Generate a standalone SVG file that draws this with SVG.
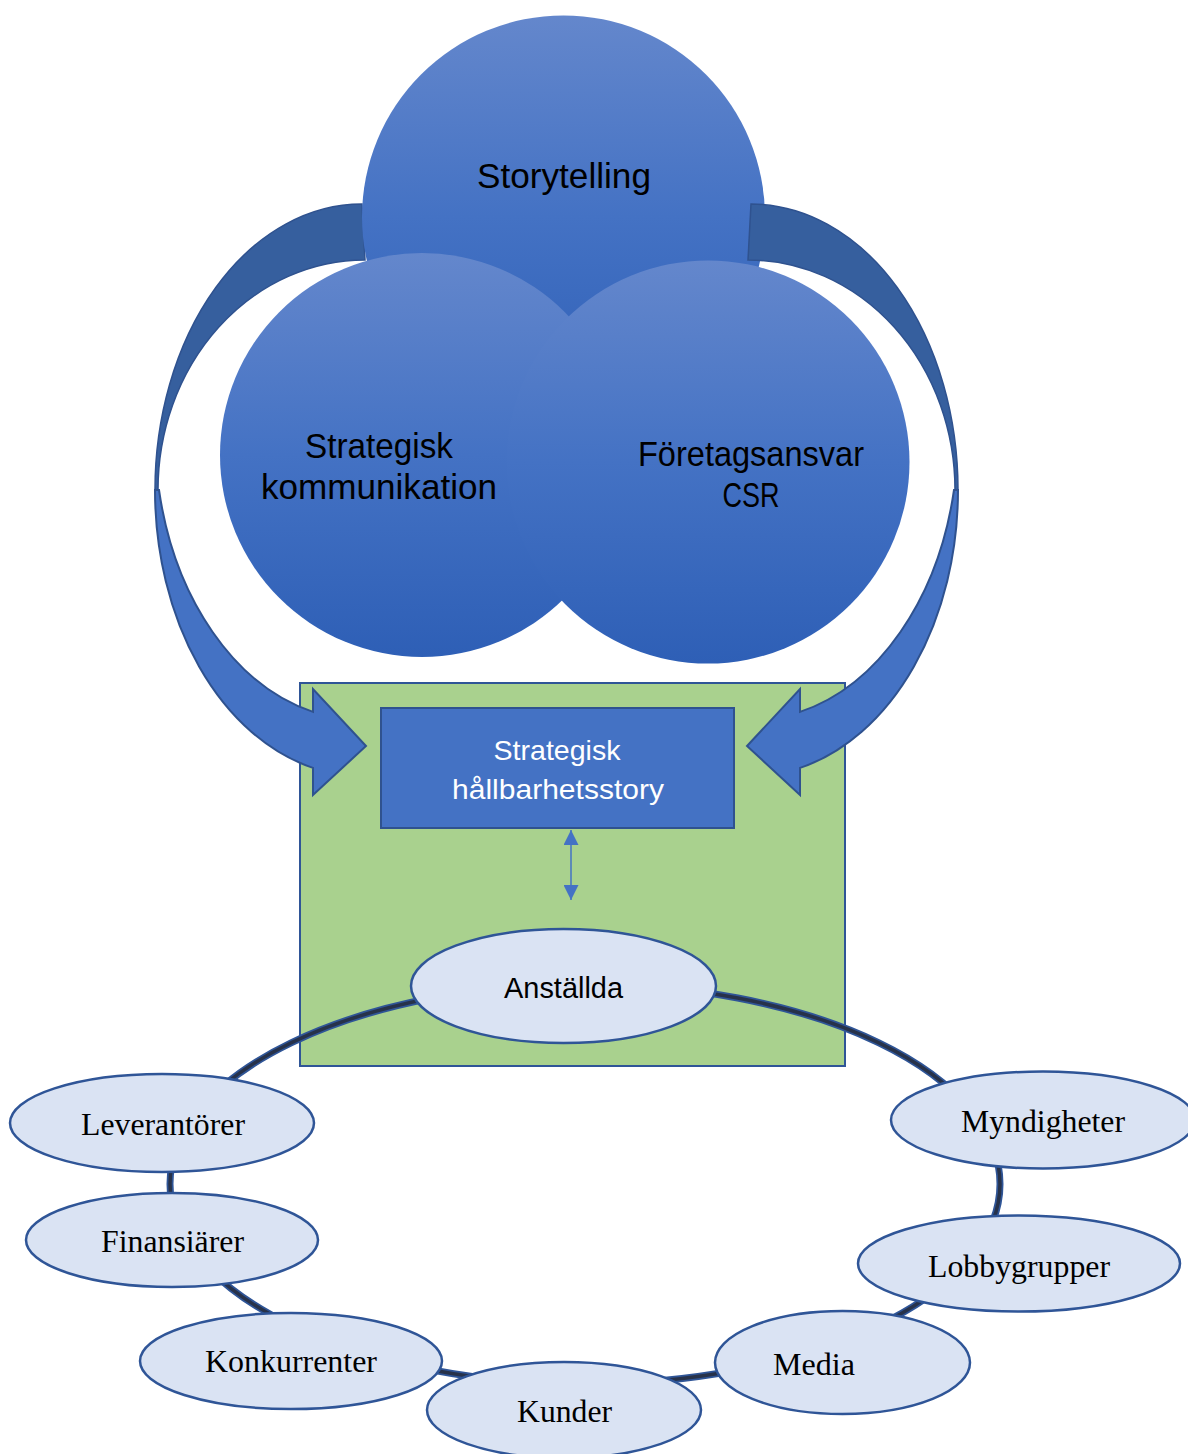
<svg xmlns="http://www.w3.org/2000/svg" width="1188" height="1454" viewBox="0 0 1188 1454">
<defs>
<linearGradient id="cg" x1="0" y1="0" x2="0" y2="1">
<stop offset="0" stop-color="#6487cc"/>
<stop offset="0.5" stop-color="#4472c4"/>
<stop offset="1" stop-color="#2e5fb6"/>
</linearGradient>
<marker id="ah" viewBox="0 0 10 10" refX="10" refY="5" markerWidth="15" markerHeight="15" markerUnits="userSpaceOnUse" orient="auto-start-reverse">
<path d="M0,0 L10,5 L0,10 Z" fill="#4472c4"/>
</marker>
<g id="curvedArrow">
<path d="M362,204 A207,286 0 0 0 155,490 L158,490 A207,230 0 0 1 365,260 Z" fill="#365f9e" stroke="#2f528f" stroke-width="1.5"/>
<path d="M155,490 A207,286 0 0 0 313,767.9 L313,795 L366,746 L313,689 L313,711.9 A207,286 0 0 1 159,490 Z" fill="#4472c4" stroke="#2f528f" stroke-width="2"/>
</g>
</defs>
<style>
.ct{font-family:"Liberation Sans",Arial,sans-serif;font-size:35px;fill:#000;text-anchor:middle}
.wt{font-family:"Liberation Sans",Arial,sans-serif;font-size:28px;fill:#fff;text-anchor:middle}
.st{font-family:"Liberation Serif","Times New Roman",serif;font-size:32px;fill:#000;text-anchor:middle}
.sh{fill:#dae3f3;stroke:#2f5597;stroke-width:2.5}
</style>

<g id="frame">
<rect x="300" y="683" width="545" height="383" fill="#a9d18e" stroke="#2f5597" stroke-width="2"/>
</g>

<g id="arrow-left">
<use href="#curvedArrow"/>
</g>

<g id="storytelling">
<circle cx="563.5" cy="217" r="201.5" fill="url(#cg)"/>
<text class="ct" x="564" y="188" textLength="174" lengthAdjust="spacingAndGlyphs">Storytelling</text>
</g>

<g id="arrow-right">
<use href="#curvedArrow" transform="translate(1113,0) scale(-1,1)"/>
</g>

<g id="strategisk-kommunikation">
<circle cx="422" cy="455" r="202" fill="url(#cg)"/>
</g>
<g id="foretagsansvar">
<circle cx="708" cy="462" r="201.5" fill="url(#cg)"/>
</g>
<g id="circle-labels">
<text class="ct" x="379" y="458" textLength="148" lengthAdjust="spacingAndGlyphs">Strategisk</text>
<text class="ct" x="379" y="499" textLength="236" lengthAdjust="spacingAndGlyphs">kommunikation</text>
<text class="ct" x="751" y="466" textLength="226" lengthAdjust="spacingAndGlyphs">Företagsansvar</text>
<text class="ct" x="751" y="507" textLength="57" lengthAdjust="spacingAndGlyphs">CSR</text>
</g>

<g id="hallbarhetsstory">
<rect x="381" y="708" width="353" height="120" fill="#4472c4" stroke="#2f528f" stroke-width="2"/>
<text class="wt" x="557" y="760" textLength="127" lengthAdjust="spacingAndGlyphs">Strategisk</text>
<text class="wt" x="558" y="799" textLength="212" lengthAdjust="spacingAndGlyphs">hållbarhetsstory</text>
</g>

<g id="connectors">
<line x1="571" y1="830" x2="571" y2="900" stroke="#4472c4" stroke-width="1.5" marker-start="url(#ah)" marker-end="url(#ah)"/>
<ellipse cx="585" cy="1184" rx="415" ry="200" fill="none" stroke="#2f5597" stroke-width="7"/>
<ellipse cx="585" cy="1184" rx="415" ry="200" fill="none" stroke="#27324a" stroke-width="3.5"/>
</g>

<g id="anstallda">
<ellipse class="sh" cx="563.5" cy="986" rx="152.5" ry="57"/>
<text class="ct" style="font-size:29px" x="563.5" y="998" textLength="119" lengthAdjust="spacingAndGlyphs">Anställda</text>
</g>
<g id="leverantorer">
<ellipse class="sh" cx="162" cy="1123" rx="152" ry="49"/>
<text class="st" x="163" y="1135" textLength="164" lengthAdjust="spacingAndGlyphs">Leverantörer</text>
</g>
<g id="finansiarer">
<ellipse class="sh" cx="172" cy="1240" rx="146" ry="47"/>
<text class="st" x="172.5" y="1252" textLength="143" lengthAdjust="spacingAndGlyphs">Finansiärer</text>
</g>
<g id="konkurrenter">
<ellipse class="sh" cx="291" cy="1361" rx="151" ry="48"/>
<text class="st" x="291" y="1372" textLength="172" lengthAdjust="spacingAndGlyphs">Konkurrenter</text>
</g>
<g id="kunder">
<ellipse class="sh" cx="564" cy="1410" rx="137" ry="48"/>
<text class="st" x="564.5" y="1422" textLength="95" lengthAdjust="spacingAndGlyphs">Kunder</text>
</g>
<g id="media">
<ellipse class="sh" cx="842.5" cy="1362.5" rx="127.5" ry="51.5"/>
<text class="st" x="814" y="1375" textLength="82" lengthAdjust="spacingAndGlyphs">Media</text>
</g>
<g id="lobbygrupper">
<ellipse class="sh" cx="1019" cy="1263.5" rx="161" ry="48"/>
<text class="st" x="1019" y="1277" textLength="182" lengthAdjust="spacingAndGlyphs">Lobbygrupper</text>
</g>
<g id="myndigheter">
<ellipse class="sh" cx="1043" cy="1120" rx="152" ry="48.5"/>
<text class="st" x="1043" y="1132" textLength="164" lengthAdjust="spacingAndGlyphs">Myndigheter</text>
</g>
</svg>
